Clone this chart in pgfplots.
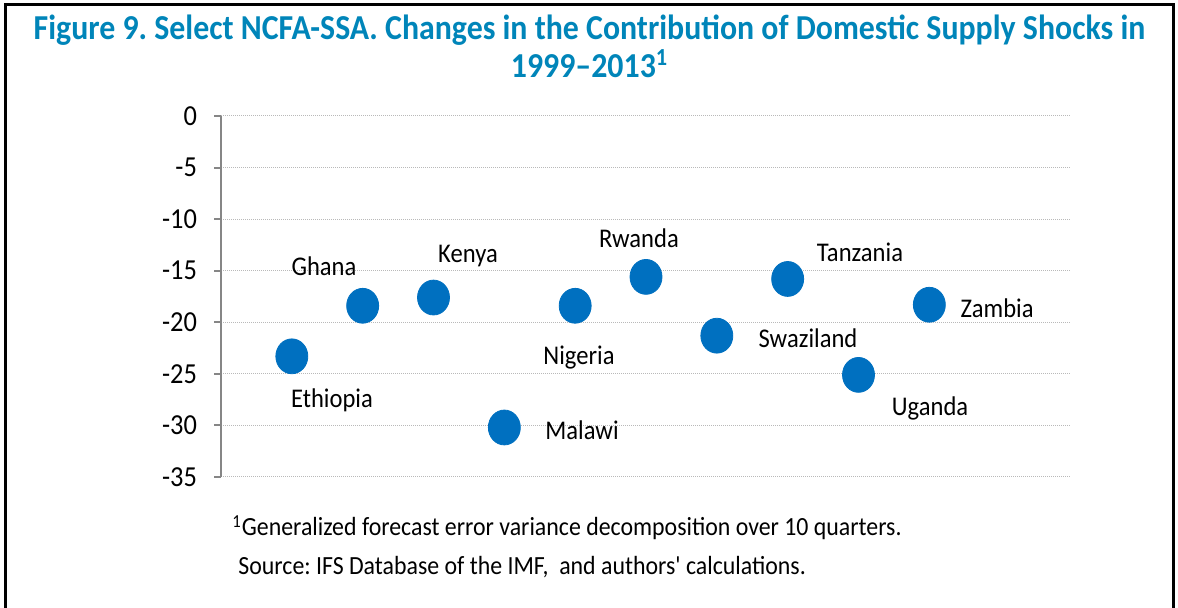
\documentclass[border=0pt]{standalone}
\usepackage{fontspec}
\setmainfont{Carlito}[FakeStretch=0.91, Ligatures=TeXOff]
\usepackage{pgfplots}
\pgfplotsset{compat=1.18}
\definecolor{titleblue}{RGB}{0,133,185}
\definecolor{ptblue}{RGB}{0,112,192}
\definecolor{axgray}{RGB}{134,134,134}
\definecolor{gridgray}{RGB}{185,185,185}
\frenchspacing
\begin{document}
\begin{tikzpicture}
\useasboundingbox (0pt,0pt) rectangle (589pt,304pt);
\draw[line width=1.5pt] (2.5pt,0pt) -- (2.5pt,301.5pt) -- (586.75pt,301.5pt) -- (586.75pt,0pt);
\node[anchor=base, inner sep=0, font=\fontsize{17.5}{20}\selectfont\bfseries, text=titleblue] at (294.75pt,284pt) {Figure 9. Select NCFA-SSA. Changes in the Contribution of Domestic Supply Shocks in};
\node[anchor=base, inner sep=0, font=\fontsize{17.5}{20}\selectfont\bfseries, text=titleblue] at (294.75pt,265pt) {1999–2013\textsuperscript{1}};
\begin{axis}[at={(110.5pt,65.5pt)}, anchor=south west, scale only axis,
  width=425pt, height=180.5pt,
  xmin=0, xmax=12, ymin=-35, ymax=0, enlargelimits=false,
  axis lines*=left,
  x axis line style={draw=none},
  y axis line style={axgray, line width=1pt},
  xtick=\empty,
  ytick={-35,-30,-25,-20,-15,-10,-5,0},
  yticklabels={-35,-30,-25,-20,-15,-10,-5,0},
  tick align=outside, major tick length=3.5pt,
  ytick style={axgray, line width=1pt},
  yticklabel style={font=\fontsize{14.5}{17}\selectfont, text=black, xshift=-5pt},
  ymajorgrids,
  major grid style={gridgray, line width=0.5pt, dash pattern=on 0.5pt off 0.5pt},
  clip=false,
]
\addplot[only marks, mark=*, mark size=8pt, mark options={fill=ptblue, draw=ptblue, yscale=1.09}] coordinates {
(1,-23.3) (2,-18.4) (3,-17.6) (4,-30.2) (5,-18.4) (6,-15.6) (7,-21.3) (8,-15.8) (9,-25.1) (10,-18.3)
};
\begin{scope}[every node/.style={font=\fontsize{13.5}{16}\selectfont}]
\node at (axis cs:1.454,-14.54) {Ghana};
\node at (axis cs:3.487,-13.57) {Kenya};
\node at (axis cs:1.567,-27.54) {Ethiopia};
\node at (axis cs:5.097,-30.44) {Malawi};
\node at (axis cs:5.054,-23.37) {Nigeria};
\node at (axis cs:5.901,-11.83) {Rwanda};
\node at (axis cs:8.287,-21.52) {Swaziland};
\node at (axis cs:9.021,-13.19) {Tanzania};
\node at (axis cs:10.01,-28.31) {Uganda};
\node at (axis cs:10.956,-18.62) {Zambia};
\end{scope}
\end{axis}
\node[anchor=base west, inner sep=0, font=\fontsize{13.1}{15}\selectfont] at (116pt,36pt) {\textsuperscript{1}Generalized forecast error variance decomposition over 10 quarters.};
\node[anchor=base west, inner sep=0, font=\fontsize{13.1}{15}\selectfont] at (119pt,16.5pt) {Source: IFS Database of the IMF,\ \ and authors' calculations.};
\end{tikzpicture}
\end{document}
